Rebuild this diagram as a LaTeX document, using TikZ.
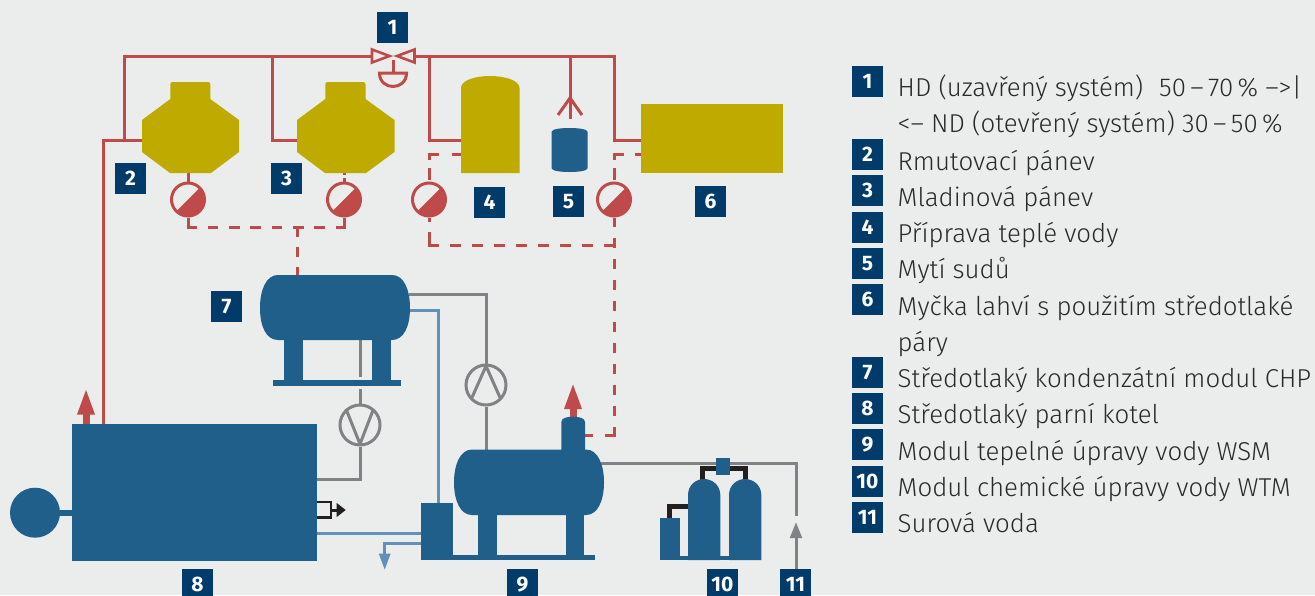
\documentclass[tikz,border=0pt]{standalone}
\usepackage{fontspec}
\setmainfont{Fira Sans}
\newfontfamily\legendfont{Fira Sans Light}
\usetikzlibrary{arrows.meta}
\definecolor{bgc}{HTML}{EBECEC}
\definecolor{tankblue}{HTML}{215F8B}
\definecolor{gold}{HTML}{BFAB00}
\definecolor{steam}{HTML}{BF4A4A}
\definecolor{pipegray}{HTML}{808285}
\definecolor{water}{HTML}{6390B8}
\definecolor{blk}{HTML}{231F20}
\definecolor{badgec}{HTML}{003B6A}
\definecolor{txt}{HTML}{2B2A2B}
\tikzset{
  x=1pt,y=-1pt,
  badge/.style={fill=badgec,text=white,minimum size=31pt,inner sep=0pt,font=\fontsize{21}{21}\selectfont\bfseries},
  legend/.style={anchor=base west,inner sep=0pt,text=txt,font=\legendfont\fontsize{25.85}{25.85}\selectfont},
  hp/.style={draw=steam,line width=3pt,line join=miter},
  cond/.style={draw=steam,line width=3pt},
  grayp/.style={draw=pipegray,line width=3pt},
  bluep/.style={draw=water,line width=3pt},
  blackp/.style={draw=blk,line width=5pt},
  gauge/.style={circle,draw=steam,line width=3pt,fill=bgc,minimum size=33pt,inner sep=0pt,
    path picture={\fill[steam] (path picture bounding box.south west) -- (path picture bounding box.north east) -- (path picture bounding box.south east) -- cycle;}},
  pump/.style={circle,draw=pipegray,line width=3pt,fill=bgc,minimum size=40pt,inner sep=0pt},
}
\begin{document}
\begin{tikzpicture}
\useasboundingbox (0,0) rectangle (1315,595);
\clip (0,0) rectangle (1315,595);
\fill[bgc] (0,0) rectangle (1315,595);

% named points
\coordinate (valveL) at (371,56);
\coordinate (valveR) at (415,56);
\coordinate (valveC) at (393,56);
\coordinate (act) at (393,73);
\coordinate (jA) at (124,56);
\coordinate (jB) at (272,56);
\coordinate (jC) at (429,56);
\coordinate (jD) at (570,56);
\coordinate (jE) at (614,56);
\coordinate (k2) at (142,140);
\coordinate (k3) at (297,140);
\coordinate (k4) at (461,140);
\coordinate (k6) at (641,140);
\coordinate (jF) at (124,140);
\coordinate (jG) at (103,140);
\coordinate (boilT) at (103,424);
\coordinate (fork) at (570,98);
\coordinate (forkEnd) at (570,119);
\coordinate (k2b) at (188,173);
\coordinate (k3b) at (344,173);
\coordinate (t7top) at (297,275);
\coordinate (cor2) at (188,227);
\coordinate (cor3) at (344,227);
\coordinate (jH) at (297,227);
\coordinate (k4c) at (461,154);
\coordinate (k6c) at (641,154);
\coordinate (cor4t) at (429,154);
\coordinate (cor5t) at (614,154);
\coordinate (cor4) at (429,245);
\coordinate (cor5) at (614,245);
\coordinate (cor6) at (614,435);
\coordinate (dome) at (585,435);
\coordinate (t7r1) at (409,294);
\coordinate (t7r2) at (409,310);
\coordinate (t7b) at (360,340);
\coordinate (t7bEnd) at (360,377);
\coordinate (pumpVin) at (360,389);
\coordinate (boilR1) at (317,479);
\coordinate (boilR2) at (317,533);
\coordinate (modL1) at (421,533);
\coordinate (modL2) at (421,543.5);
\coordinate (modT) at (438.5,503);
\coordinate (t9t) at (486,450);
\coordinate (t9r) at (601,463.5);
\coordinate (rawEnd) at (796,516);
\coordinate (rawStart) at (796,570);
\coordinate (colL) at (688,506);
\coordinate (box10) at (669.5,518);
\coordinate (col1) at (702.5,480);
\coordinate (col2) at (745,480);
\coordinate (sq1) at (717,468.5);
\coordinate (sq2) at (730,468.5);

% gauges and pumps
\node[gauge] (g2) at (188,199.5) {};
\node[gauge] (g3) at (344,199.5) {};
\node[gauge] (g4) at (429,199.5) {};
\node[gauge] (g5) at (614,199.5) {};
\node[pump] (pV) at (360,425) {};
\node[pump] (pA) at (486,385) {};

% steam pipes
\draw[hp] (jG |- boilT) -- (jG) -- (k2);
\draw[hp] (jF) |- (valveL);
\draw[hp] (k3) -| (jB);
\draw[hp] (valveR) -- (jE) |- (k6);
\draw[hp] (jC) |- (k4);
\draw[hp] (jD) -- (forkEnd);
\draw[hp] (558,115) -- (fork) -- (582,115);
\draw[hp] (k2b) -- (g2.north);
\draw[hp] (393,60) -- (act);
% valve
\draw[hp,line width=2.6pt] (372,49.5) -- (389.5,56) -- (372,62.5) -- cycle;
\draw[hp,line width=2.6pt] (414.5,49.5) -- (397,56) -- (414.5,62.5) -- cycle;
\draw[hp,fill=bgc] (379.5,73) .. controls (379.5,91) and (406.5,91) .. (406.5,73) -- cycle;

% condensate
\draw[cond,dash pattern=on 2pt off 3pt on 8pt off 9pt] (k3b) -- (g3.north);
\draw[cond] (g2.south) -- (cor2);
\draw[cond] (g3.south) -- (cor3);
\draw[cond,dash pattern=on 10.6pt off 10.7pt] ([xshift=-1.5pt]cor2) -- ([xshift=1.5pt]cor3);
\draw[cond,dash pattern=on 10pt off 10pt] (jH) -- (t7top);
\draw[cond,dash pattern=on 11pt off 13pt] ([xshift=-1.5pt]cor4t) -- (k4c);
\draw[cond,dash pattern=on 7pt off 8pt on 12pt off 30pt] ([yshift=1.5pt]cor4t) -- (g4.north);
\draw[cond,dash pattern=on 11pt off 11pt] ([xshift=-1.5pt]cor5t) -- (k6c);
\draw[cond,dash pattern=on 7pt off 8pt on 12pt off 30pt] ([yshift=1.5pt]cor5t) -- (g5.north);
\draw[cond] (g4.south) -- +(0,4);
\draw[cond] ([yshift=1.5pt]cor4) -- +(0,-12);
\draw[cond,dash pattern=on 11pt off 11pt] ([xshift=-1.5pt]cor4) -- ([xshift=1.5pt]cor5);
\draw[cond,dash pattern=on 10pt off 11pt] ([yshift=-1.5pt]cor6) -- (g5.south);
\draw[cond,dash pattern=on 11pt off 12pt] ([xshift=1.5pt]cor6) -- (dome);

% gray and blue pipes
\draw[grayp] (t7b) -- (t7bEnd);
\draw[grayp] (pumpVin) -- (pV.north);
\draw[grayp] (pV.south) |- (boilR1);
\draw[grayp] (t7r1) -| (pA.north);
\draw[grayp] (pA.south) -- (t9t);
\draw[grayp] (t9r) -| (rawEnd);
\draw[grayp] (rawStart) -- (796,537);
\fill[pipegray] (796,522.5) -- (802.3,538) -- (789.7,538) -- cycle;
\draw[bluep] (t7r2) -| (modT);
\draw[bluep] (boilR2) -- (modL1);
\draw[bluep] (modL2) -| (384.7,554);
\fill[water] (384.7,569.5) -- (378.7,553.5) -- (390.7,553.5) -- cycle;

% pump symbols
\draw[pipegray,line width=3pt,line join=round] (346,409) -- (360,444) -- (373.5,409);
\draw[pipegray,line width=3pt,line join=round] (472,397.5) -- (486,366) -- (500,397.5);

% gold consumers
\fill[gold] (142,120) -- (170.3,99) -- (170.3,84) .. controls (170.3,82.5) and (171.5,82) .. (173,82) -- (207.5,82) .. controls (209,82) and (210.3,82.5) .. (210.3,84) -- (210.3,99) -- (239,120) -- (239,152) -- (211,173) -- (170,173) -- (142,152) -- cycle;
\fill[gold] (297,120) -- (325.3,99) -- (325.3,84) .. controls (325.3,82.5) and (326.5,82) .. (328,82) -- (362.7,82) .. controls (364.2,82) and (365.5,82.5) .. (365.5,84) -- (365.5,99) -- (394.5,120) -- (394.5,152) -- (366,173) -- (325,173) -- (297,152) -- cycle;
\fill[gold] (461,173) -- (461,88) .. controls (461,80) and (476,76) .. (490,76) .. controls (504,76) and (519.5,80) .. (519.5,88) -- (519.5,173) -- cycle;
\fill[gold] (641,104) rectangle (783,173);
\fill[tankblue] (551.5,132) .. controls (551.5,129) and (561,128) .. (569.5,128) .. controls (578,128) and (587.7,129) .. (587.7,132) -- (587.7,168) .. controls (587.7,171) and (578,172) .. (569.5,172) .. controls (561,172) and (551.5,171) .. (551.5,168) -- cycle;

% module 7
\fill[tankblue] (278,275) -- (392,275) .. controls (404,275) and (410,290) .. (410,308) .. controls (410,326) and (404,340) .. (392,340) -- (278,340) .. controls (266,340) and (260,326) .. (260,308) .. controls (260,290) and (266,275) .. (278,275) -- cycle;
\fill[tankblue] (284,340) rectangle (303,381);
\fill[tankblue] (372,340) rectangle (391,381);
\fill[tankblue] (273,380) rectangle (401,386);

% boiler 8
\fill[steam] (82.5,414) rectangle (89.5,424);
\fill[steam] (86,390) -- (95,414.5) -- (77,414.5) -- cycle;
\fill[tankblue] (72,424) rectangle (317,560.5);
\fill[tankblue] (35,512.7) circle[radius=25pt];
\fill[tankblue] (58,509.5) rectangle (72,516);
\draw[blk,line width=2.5pt] (317,502) -- (331,502) -- (331,517.5) -- (317,517.5);
\draw[blk,line width=3pt] (331,510) -- (338,510);
\fill[blk] (345.7,510) -- (336.7,503) -- (336.7,517) -- cycle;

% module 9
\fill[steam] (569.5,408) rectangle (576.5,418);
\fill[steam] (573,384.5) -- (582,409) -- (564,409) -- cycle;
\fill[tankblue] (561.3,452) -- (561.3,422) .. controls (561.3,418) and (567,416.7) .. (573,416.7) .. controls (579,416.7) and (585,418) .. (585,422) -- (585,452) -- cycle;
\fill[tankblue] (472,449.5) -- (586,449.5) .. controls (598,449.5) and (604,465) .. (604,482.5) .. controls (604,500) and (598,515) .. (586,515) -- (472,515) .. controls (460,515) and (454,500) .. (454,482.5) .. controls (454,465) and (460,449.5) .. (472,449.5) -- cycle;
\fill[tankblue] (478,515) rectangle (496.7,556);
\fill[tankblue] (565.7,515) rectangle (584,556);
\fill[tankblue] (421.3,502.7) rectangle (453,560);
\fill[tankblue] (421.3,554.5) rectangle (594.7,560);

% module 10
\draw[blackp] (col1) |- (sq1);
\draw[blackp] (sq2) -| (col2);
\draw[blackp] (box10) |- (colL);
\fill[tankblue] (716,458) rectangle (730.3,475);
\fill[tankblue] (660,517.5) rectangle (680,560);
\fill[tankblue] (688,560) -- (688,495) .. controls (688,485) and (696,479) .. (704,479) .. controls (712,479) and (720.3,485) .. (720.3,495) -- (720.3,560) -- cycle;
\fill[tankblue] (729,560) -- (729,495) .. controls (729,485) and (737,479) .. (745,479) .. controls (753,479) and (761.3,485) .. (761.3,495) -- (761.3,560) -- cycle;
\fill[tankblue] (660,555.5) rectangle (761.3,560);

% badges on the diagram
\node[badge] (b1) at (392.5,27.5) {1};
\node[badge] (b2) at (130.5,178.5) {2};
\node[badge] (b3) at (286.5,178.5) {3};
\node[badge] (b4) at (489.5,202.5) {4};
\node[badge] (b5) at (568.5,201.5) {5};
\node[badge] (b6) at (710.5,201.5) {6};
\node[badge] (b7) at (226.5,306.5) {7};
\node[badge] (b8) at (197.5,584.5) {8};
\node[badge] (b9) at (522.5,584.5) {9};
\node[badge] (b10) at (722.5,584.5) {10};
\node[badge] (b11) at (795.5,584.5) {11};

% legend
\node[badge] (l1) at (867.5,81.5) {1};
\node[badge] (l2) at (867.5,154.5) {2};
\node[badge] (l3) at (867.5,190.5) {3};
\node[badge] (l4) at (867.5,227.5) {4};
\node[badge] (l5) at (867.5,263.5) {5};
\node[badge] (l6) at (867.5,299.5) {6};
\node[badge] (l7) at (867.5,372.5) {7};
\node[badge] (l8) at (867.5,408.5) {8};
\node[badge] (l9) at (867.5,444.5) {9};
\node[badge] (l10) at (867.5,481.5) {10};
\node[badge] (l11) at (867.5,517.5) {11};
\node[legend] (t1a) at (897.5,96.7) {HD (uzavřený systém)\hspace{16pt}50\,–\,70\,\% –>|};
\node[legend] (t1b) at (897.5,132.7) {<– ND (otevřený systém) 30\,–\,50\,\%};
\node[legend] (t2) at (897.5,170) {Rmutovací pánev};
\node[legend] (t3) at (897.5,206) {Mladinová pánev};
\node[legend] (t4) at (897.5,242) {Příprava teplé vody};
\node[legend] (t5) at (897.5,278) {Mytí sudů};
\node[legend] (t6a) at (897.5,315) {Myčka lahví s použitím středotlaké};
\node[legend] (t6b) at (897.5,351) {páry};
\node[legend] (t7) at (897.5,387) {Středotlaký kondenzátní modul CHP};
\node[legend] (t8) at (897.5,423) {Středotlaký parní kotel};
\node[legend] (t9) at (897.5,460) {Modul tepelné úpravy vody WSM};
\node[legend] (t10) at (897.5,496) {Modul chemické úpravy vody WTM};
\node[legend] (t11) at (897.5,532) {Surová voda};
\end{tikzpicture}
\end{document}
